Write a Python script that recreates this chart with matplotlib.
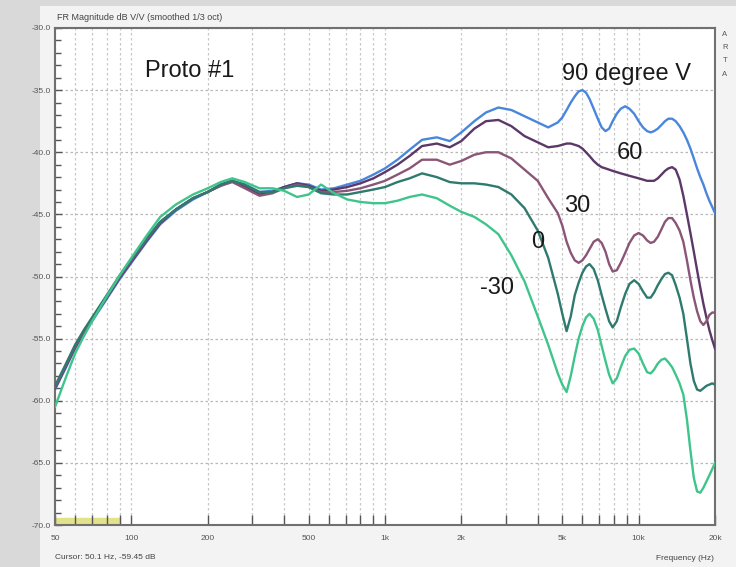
import matplotlib.pyplot as plt
from matplotlib.patches import Rectangle
import numpy as np

plt.rcParams['font.family'] = ['Liberation Sans', 'DejaVu Sans']

# frequency points (Hz) shared by all curves
freq = [50, 55, 60, 65, 70, 80, 90, 100, 115, 130, 150, 175, 200, 225, 250,
        280, 320, 360, 400, 450, 500, 560, 630, 710, 800, 900, 1000, 1120,
        1250, 1400, 1600, 1800, 2000, 2250, 2500, 2800, 3150, 3550, 4000,
        4400, 4800, 5000, 5200, 5400, 5600, 5800, 6000, 6200, 6400,
        6650, 6900, 7150, 7400, 7650, 7900, 8200, 8500, 8850, 9200,
        9600, 10000, 10400, 10800, 11150, 11500, 11900, 12300, 12700, 13100,
        13550, 14000, 14500, 15000, 15500, 16000, 16500, 17000, 17500, 18000,
        18500, 19000, 19500, 20000]

# magnitude (dB) per vertical angle
db_90 = [-59.1, -57.4, -55.8, -54.6, -53.6, -51.8, -50.2, -48.9, -47.2, -45.8, -44.7, -43.8, -43.2, -42.7, -42.3,
         -42.6, -43.2, -43.1, -42.8, -42.5, -42.6, -43.0, -42.9, -42.6, -42.3, -41.8, -41.3, -40.6,
         -39.8, -39.0, -38.8, -39.1, -38.4, -37.5, -36.8, -36.4, -36.6, -37.1, -37.6,
         -38.0, -37.6, -37.2, -36.6, -36.0, -35.5, -35.1, -35.0, -35.2, -35.7,
         -36.5, -37.3, -38.0, -38.3, -38.1, -37.5, -36.9, -36.5, -36.3, -36.5,
         -36.9, -37.5, -38.0, -38.3, -38.4, -38.3, -38.1, -37.8, -37.5, -37.3,
         -37.3, -37.5, -37.9, -38.4, -39.0, -39.7, -40.5, -41.3, -42.0, -42.6,
         -43.3, -43.9, -44.4, -44.9]
db_60 = [-59.0, -57.3, -55.7, -54.5, -53.5, -51.7, -50.1, -48.8, -47.1, -45.7, -44.6, -43.7, -43.2, -42.6, -42.3,
         -42.8, -43.4, -43.2, -42.8, -42.5, -42.7, -43.1, -43.0, -42.8, -42.5, -42.1, -41.6, -41.0,
         -40.3, -39.5, -39.3, -39.6, -39.1, -38.1, -37.5, -37.4, -37.9, -38.7, -39.2,
         -39.6, -39.5, -39.4, -39.3, -39.3, -39.4, -39.5, -39.7, -40.0, -40.3,
         -40.7, -41.0, -41.2, -41.3, -41.4, -41.5, -41.6, -41.7, -41.8, -41.9,
         -42.0, -42.1, -42.2, -42.3, -42.3, -42.3, -42.1, -41.8, -41.5, -41.3,
         -41.2, -41.4, -42.2, -43.5, -45.0, -46.5, -48.0, -49.5, -50.9, -52.2,
         -53.3, -54.3, -55.1, -55.8]
db_30 = [-58.9, -57.2, -55.6, -54.4, -53.4, -51.6, -50.0, -48.7, -47.0, -45.6, -44.6, -43.7, -43.2, -42.7, -42.4,
         -42.9, -43.5, -43.3, -42.9, -42.6, -42.8, -43.2, -43.2, -43.1, -42.9, -42.6, -42.3, -41.8,
         -41.3, -40.6, -40.6, -41.0, -40.7, -40.2, -40.0, -40.0, -40.5, -41.4, -42.3,
         -43.7, -44.9, -45.9, -47.2, -48.1, -48.7, -48.9, -48.7, -48.3, -47.8,
         -47.2, -47.0, -47.3, -48.0, -49.0, -49.6, -49.5, -48.9, -48.1, -47.3,
         -46.7, -46.5, -46.7, -47.1, -47.3, -47.2, -46.8, -46.2, -45.6, -45.3,
         -45.3, -45.7, -46.3, -47.2, -48.7, -50.3, -51.7, -52.8, -53.6, -53.9,
         -53.6, -53.1, -52.9, -52.9]
db_0 = [-58.8, -57.1, -55.5, -54.3, -53.3, -51.5, -49.9, -48.6, -46.9, -45.6, -44.6, -43.7, -43.2, -42.6, -42.3,
        -42.6, -43.2, -43.2, -42.9, -42.7, -42.8, -43.3, -43.4, -43.4, -43.2, -43.0, -42.8, -42.4,
        -42.1, -41.7, -42.0, -42.4, -42.5, -42.5, -42.6, -42.8, -43.4, -44.5, -46.3,
        -48.5, -51.4, -53.0, -54.4, -53.2, -51.5, -50.5, -49.7, -49.2, -49.0,
        -49.4, -50.3, -51.5, -52.6, -53.6, -54.1, -53.6, -52.5, -51.4, -50.6,
        -50.3, -50.6, -51.2, -51.7, -51.7, -51.3, -50.7, -50.2, -49.8, -49.7,
        -49.9, -50.7, -51.7, -53.0, -55.0, -57.0, -58.4, -59.1, -59.2, -59.0,
        -58.8, -58.7, -58.6, -58.7]
db_m30 = [-60.5, -58.2, -56.2, -54.8, -53.6, -51.6, -49.9, -48.5, -46.7, -45.2, -44.2, -43.4, -42.9, -42.4, -42.1,
          -42.4, -42.9, -42.9, -43.1, -43.6, -43.4, -42.6, -43.3, -43.8, -44.0, -44.1, -44.1, -43.9,
          -43.6, -43.4, -43.7, -44.3, -44.8, -45.2, -45.8, -46.6, -48.3, -50.4, -53.2,
          -55.5, -57.8, -58.7, -59.3, -58.0, -56.4, -55.0, -54.0, -53.3, -53.0,
          -53.4, -54.3, -55.6, -56.8, -57.9, -58.6, -58.2, -57.3, -56.4, -55.9,
          -55.8, -56.2, -57.0, -57.7, -57.8, -57.5, -57.0, -56.7, -56.6, -56.9,
          -57.3, -57.9, -58.6, -59.5, -61.5, -64.0, -66.2, -67.3, -67.4, -67.0,
          -66.5, -66.0, -65.5, -65.0]

curves = [db_90, db_60, db_30, db_0, db_m30]
colors = ['#4a86dc', '#5c3868', '#8a5678', '#2f7a6e', '#3fc58c']

# text labels: (text, left freq, dB)
labels = ['Proto #1', '90 degree V', '60', '30', '0', '-30']
label_f = [113, 5000, 8200, 5100, 3760, 2370]
label_db = [-33.5, -33.7, -40.1, -44.3, -47.2, -50.9]

xticks = [50, 100, 200, 500, 1000, 2000, 5000, 10000, 20000]
xticklabels = ['50', '100', '200', '500', '1k', '2k', '5k', '10k', '20k']
xminor = [60, 70, 80, 90, 300, 400, 600, 700, 800, 900, 3000, 4000,
          6000, 7000, 8000, 9000]
yticks = np.arange(-70, -29, 5)
yticklabels = ['%.1f' % v for v in yticks]

fig = plt.figure(figsize=(7.36, 5.67), dpi=100, facecolor='#d9d9d9')
fig.patches.append(Rectangle((40 / 736, 0), 1, 1 - 6 / 567, transform=fig.transFigure,
                             facecolor='#f3f3f3', edgecolor='none', zorder=-5))
ax = fig.add_axes([55 / 736, 1 - 525 / 567, 660 / 736, 497 / 567])
ax.set_facecolor('white')

ax.set_xscale('log')
ax.set_xlim(50, 20000)
ax.set_ylim(-70, -30)

ax.set_xticks(xticks)
ax.set_xticklabels(xticklabels)
ax.set_xticks(xminor, minor=True)
ax.set_xticklabels([], minor=True)
ax.set_yticks(yticks)
ax.set_yticklabels(yticklabels)
ax.set_yticks(np.arange(-70, -29, 1), minor=True)

ax.tick_params(axis='both', which='both', direction='in', colors='#555555',
               labelsize=6, width=1)
ax.tick_params(axis='x', which='both', length=7, pad=7)
ax.tick_params(axis='y', which='major', length=5, pad=3)
ax.tick_params(axis='y', which='minor', length=4)

ax.grid(True, axis='x', which='both', linestyle=(0, (2, 2)), color='#c8c8c8', linewidth=0.9)
ax.grid(True, axis='y', which='major', linestyle=(0, (2, 2)), color='#b8b8b8', linewidth=0.9)
for s in ax.spines.values():
    s.set_color('#707070')
    s.set_linewidth(1.5)

# cursor band at bottom left
ax.fill_between([50, 90], -70, -69.4, color='#e2e28a', zorder=1)

for vals, c in zip(curves, colors):
    ax.plot(freq, vals, color=c, linewidth=1.7, zorder=3,
            solid_joinstyle='round')

for t, f, d in zip(labels, label_f, label_db):
    ax.text(f, d, t, fontsize=17, color='#1a1a1a', ha='left', va='center', zorder=4)

fig.text(57 / 736, 1 - 17 / 567, 'FR Magnitude dB V/V (smoothed 1/3 oct)',
         fontsize=6.5, color='#444444', va='center')
for i, ch in enumerate('ARTA'):
    fig.text(725 / 736, 1 - (34 + 13.5 * i) / 567, ch, fontsize=5.5,
             color='#555555', ha='center', va='center')
fig.text(55 / 736, 1 - 557 / 567, 'Cursor: 50.1 Hz, -59.45 dB', fontsize=6,
         color='#444444', va='center')
fig.text(714 / 736, 1 - 558 / 567, 'Frequency (Hz)', fontsize=6,
         color='#444444', va='center', ha='right')

plt.savefig('out.png', dpi=100, facecolor=fig.get_facecolor())
